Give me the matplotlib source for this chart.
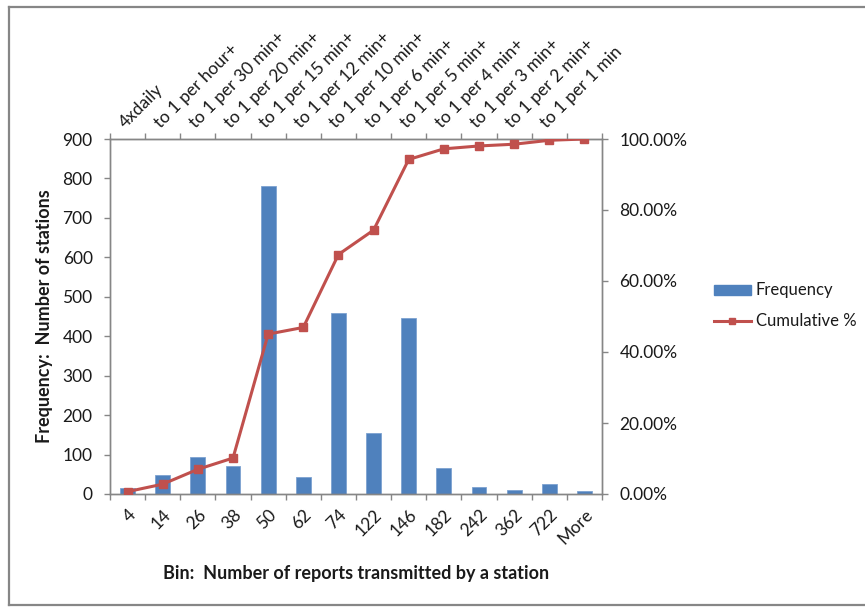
import matplotlib
matplotlib.use("Agg")
import matplotlib.pyplot as plt
from matplotlib.lines import Line2D
from matplotlib.patches import Patch
from matplotlib.ticker import FuncFormatter
import numpy as np

plt.rcParams['font.family'] = ['Lato', 'DejaVu Sans']

# Histogram bins (reports per station) and station counts
bins = ["4", "14", "26", "38", "50", "62", "74", "122", "146", "182",
        "242", "362", "722", "More"]
frequency = [15, 47, 94, 71, 782, 42, 460, 154, 446, 67, 18, 11, 25, 8]
cumulative_pct = [0.67, 2.77, 6.96, 10.13, 45.04, 46.92, 67.46, 74.33,
                  94.24, 97.23, 98.04, 98.53, 99.64, 100.0]
rate_labels = ["4xdaily", "to 1 per hour+", "to 1 per 30 min+",
               "to 1 per 20 min+", "to 1 per 15 min+", "to 1 per 12 min+",
               "to 1 per 10 min+", "to 1 per 6 min+", "to 1 per 5 min+",
               "to 1 per 4 min+", "to 1 per 3 min+", "to 1 per 2 min+",
               "to 1 per 1 min"]

BAR = "#4F81BD"
LINE = "#C0504D"
AXIS = "#868686"
TEXT = "#1a1a1a"

W, H = 865, 607
fig = plt.figure(figsize=(W / 100, H / 100), dpi=100)

# chart-area frame (left, top, bottom edges)
for xs, ys in [((9, 9), (7, 605)), ((9, W + 5), (7, 7)), ((9, W + 5), (605, 605))]:
    fig.add_artist(Line2D([x / W for x in xs], [1 - y / H for y in ys],
                          color=AXIS, lw=1.6, transform=fig.transFigure))

left, right, top, bottom = 110, 602, 139, 494
ax = fig.add_axes([left / W, 1 - bottom / H, (right - left) / W, (bottom - top) / H])

x = np.arange(len(bins))
ax.bar(x, frequency, width=0.42, color=BAR, edgecolor="#7DA2D0", linewidth=0.6, zorder=2)
ax.set_xlim(-0.5, len(bins) - 0.5)
ax.set_ylim(0, 900)
ax.set_yticks(np.arange(0, 901, 100))

for s in ["left", "bottom", "top", "right"]:
    ax.spines[s].set_color(AXIS)
    ax.spines[s].set_linewidth(1.0)

# category boundaries as major ticks, labels on minor ticks at centres
ax.set_xticks(np.arange(-0.5, len(bins), 1.0))
ax.set_xticklabels([])
ax.set_xticks(x, minor=True)
ax.set_xticklabels(bins, minor=True, rotation=45, ha="right", va="top",
                   rotation_mode="anchor", fontsize=12.5, color=TEXT)
ax.tick_params(axis="x", which="major", direction="out", length=4.5, color=AXIS, width=1.0)
ax.tick_params(axis="x", which="minor", length=0, pad=9)
ax.tick_params(axis="y", direction="out", length=4.5, color=AXIS, width=1.0,
               labelsize=12.5, labelcolor=TEXT, pad=8)

ax.set_xlabel("Bin:  Number of reports transmitted by a station",
              fontsize=13, fontweight="bold", color=TEXT, labelpad=13)
ax.set_ylabel("Frequency:  Number of stations",
              fontsize=13, fontweight="bold", color=TEXT, labelpad=7)

# cumulative percentage on the secondary axis
ax2 = ax.twinx()
ax2.plot(x, cumulative_pct, color=LINE, lw=2.2, marker="s", markersize=5.5,
         markerfacecolor=LINE, markeredgecolor=LINE, zorder=3)
ax2.set_ylim(0, 100)
ax2.set_yticks(np.arange(0, 101, 20))
ax2.yaxis.set_major_formatter(FuncFormatter(lambda v, p: f"{v:.2f}%"))
ax2.tick_params(axis="y", direction="out", length=4.5, color=AXIS, width=1.0,
                labelsize=12.5, labelcolor=TEXT, pad=8)
for s in ["left", "bottom", "top", "right"]:
    ax2.spines[s].set_color(AXIS)
    ax2.spines[s].set_linewidth(1.0)

# secondary horizontal axis with reporting-rate labels
sec = ax.secondary_xaxis("top")
sec.spines["top"].set_color(AXIS)
sec.set_xticks(np.arange(-0.5, len(bins), 1.0))
sec.set_xticklabels([])
sec.set_xticks(x[:len(rate_labels)], minor=True)
sec.set_xticklabels(rate_labels, minor=True, rotation=45, ha="left", va="bottom",
                    rotation_mode="anchor", fontsize=12.5, color=TEXT)
sec.tick_params(axis="x", which="major", direction="out", length=4.5, color=AXIS, width=1.0)
sec.tick_params(axis="x", which="minor", length=0, pad=6)

handles = [Patch(facecolor=BAR, edgecolor=BAR),
           Line2D([0], [0], color=LINE, lw=2.2, marker="s", markersize=4)]
fig.legend(handles, ["Frequency", "Cumulative %"], loc="center left",
           bbox_to_anchor=(699 / W, 1 - 306 / H), frameon=False, fontsize=12,
           handlelength=2.2, handleheight=0.55, handletextpad=0.3,
           labelspacing=0.9, labelcolor=TEXT)

fig.savefig("out.png", dpi=100)
